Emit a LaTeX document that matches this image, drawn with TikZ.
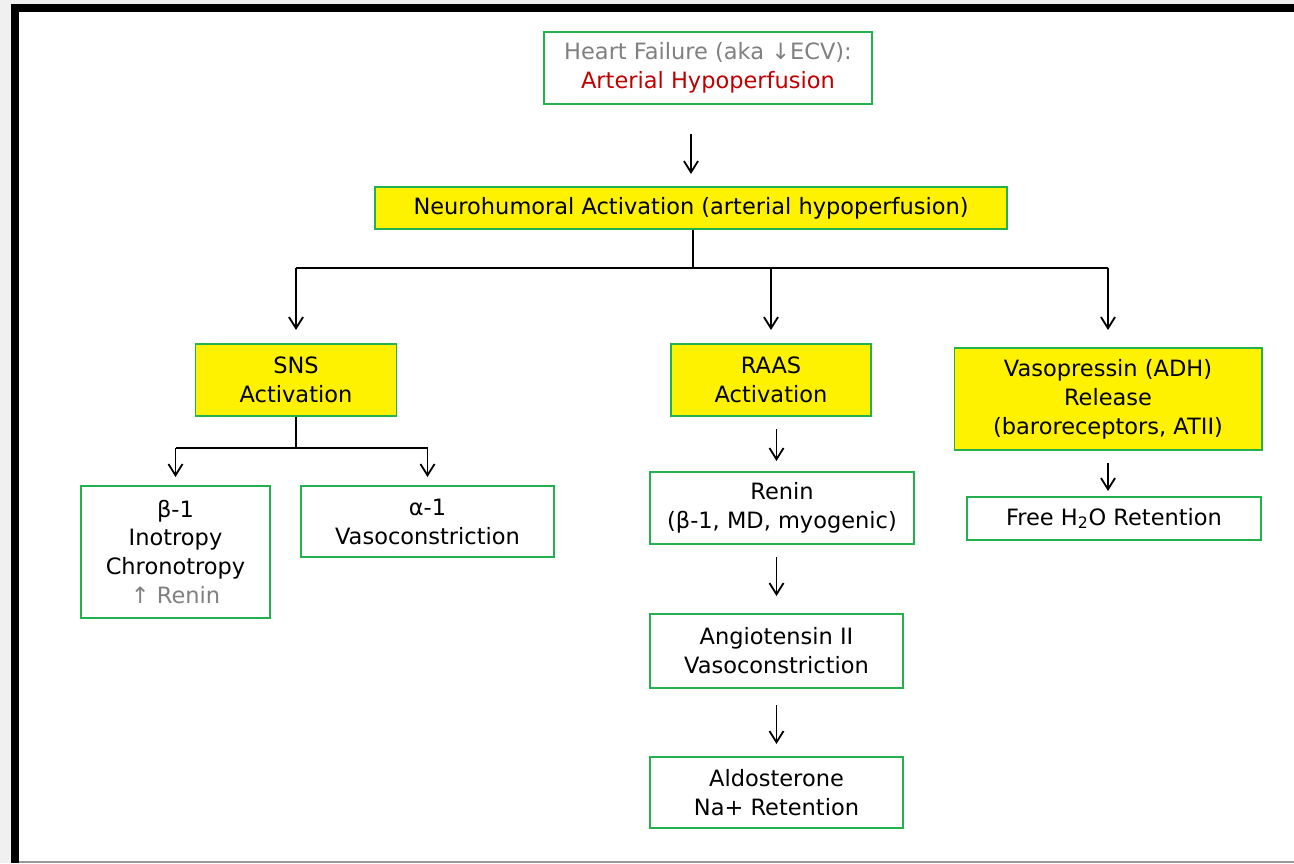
\documentclass[tikz,border=0pt]{standalone}
\usepackage{fontspec}
\setmainfont{DejaVu Sans}
\newfontfamily\symfont{DejaVu Sans}
\usetikzlibrary{arrows.meta}

\definecolor{boxgreen}{RGB}{34,177,76}
\definecolor{hfgray}{RGB}{128,128,128}
\definecolor{hfred}{RGB}{192,0,0}

\tikzset{
  box/.style 2 args={draw=boxgreen, line width=1.4pt, minimum width=#1*0.025cm,
    minimum height=#2*0.025cm, inner sep=0pt, align=center,
    font=\fontsize{16}{20.6}\selectfont},
  hbox/.style 2 args={box={#1}{#2}, fill=yellow},
  arr/.style={-{Straight Barb[length=8pt,width=10pt]}, line width=1.3pt},
  lnk/.style={line width=1.3pt}
}

\begin{document}
\begin{tikzpicture}[x=0.025cm,y=-0.025cm]
  \useasboundingbox (0,0) rectangle (1294,863);
  % frame
  \fill[white] (0,0) rectangle (1294,863);
  \fill[black!6] (0,0) rectangle (1294,4);
  \fill[black!6] (0,0) rectangle (11,863);
  \fill[black] (11,4) rectangle (1294,12);
  \fill[black] (11,4) rectangle (19,863);
  \draw[black!40, line width=0.8pt] (19,862) -- (1294,862);

  % boxes
  \node[box={328}{72}] (hf) at (708,68)
    {{\color{hfgray}Heart Failure (aka {\symfont↓}ECV):}\\{\color{hfred}Arterial Hypoperfusion}};
  \node[hbox={632}{42}] (neuro) at (691,208) {Neurohumoral Activation (arterial hypoperfusion)};
  \node[hbox={201}{72}] (sns) at (296,380) {SNS\\Activation};
  \node[hbox={200}{72}] (raas) at (771,380) {RAAS\\Activation};
  \node[hbox={307}{102}] (vaso) at (1108,399) {Vasopressin (ADH)\\Release\\(baroreceptors, ATII)};
  \node[box={189}{132}] (b1) at (175.5,552)
    {β-1\\Inotropy\\Chronotropy\\{\color{hfgray}{\symfont↑} Renin}};
  \node[box={253}{71}] (a1) at (427.5,521.5) {α-1\\Vasoconstriction};
  \node[box={264}{72}] (renin) at (782,508) {Renin\\(β-1, MD, myogenic)};
  \node[box={253}{74}] (ang) at (776.5,651) {Angiotensin II\\Vasoconstriction};
  \node[box={253}{71}] (ald) at (776.5,792.5) {Aldosterone\\Na+ Retention};
  \node[box={294}{43}] (free) at (1114,518.5) {Free H\textsubscript{2}O Retention};

  \coordinate (split) at (693,268);
  \coordinate (snssplit) at (291,448);

  % connectors
  \draw[arr, shorten <=0.725cm, shorten >=0.3cm] (hf.south -| neuro.north) -- (neuro.north);
  \draw[lnk] (neuro.south -| split) -- (split);
  \draw[lnk] (sns.north |- split) -- (vaso.north |- split);
  \draw[arr, shorten >=0.325cm] (sns.north |- split) -- (sns.north);
  \draw[arr, shorten >=0.325cm] (raas.north |- split) -- (raas.north);
  \draw[arr, shorten >=0.425cm] (vaso.north |- split) -- (vaso.north);

  \draw[lnk] (sns.south) -- (sns.south |- snssplit);
  \draw[lnk] (b1.north |- snssplit) -- (a1.north |- snssplit);
  \draw[arr, shorten >=0.2cm] (b1.north |- snssplit) -- (b1.north);
  \draw[arr, shorten >=0.2cm] (a1.north |- snssplit) -- (a1.north);

  \draw[arr, shorten <=0.3cm, shorten >=0.25cm] (raas.south -| ang.north) -- (renin.north -| ang.north);
  \draw[arr, shorten <=0.3cm, shorten >=0.425cm] (renin.south -| ang.north) -- (ang.north);
  \draw[arr, shorten <=0.4cm, shorten >=0.3cm] (ang.south) -- (ald.north);
  \draw[arr, shorten <=0.3cm, shorten >=0.125cm] (vaso.south) -- (vaso.south |- free.north);
\end{tikzpicture}
\end{document}
